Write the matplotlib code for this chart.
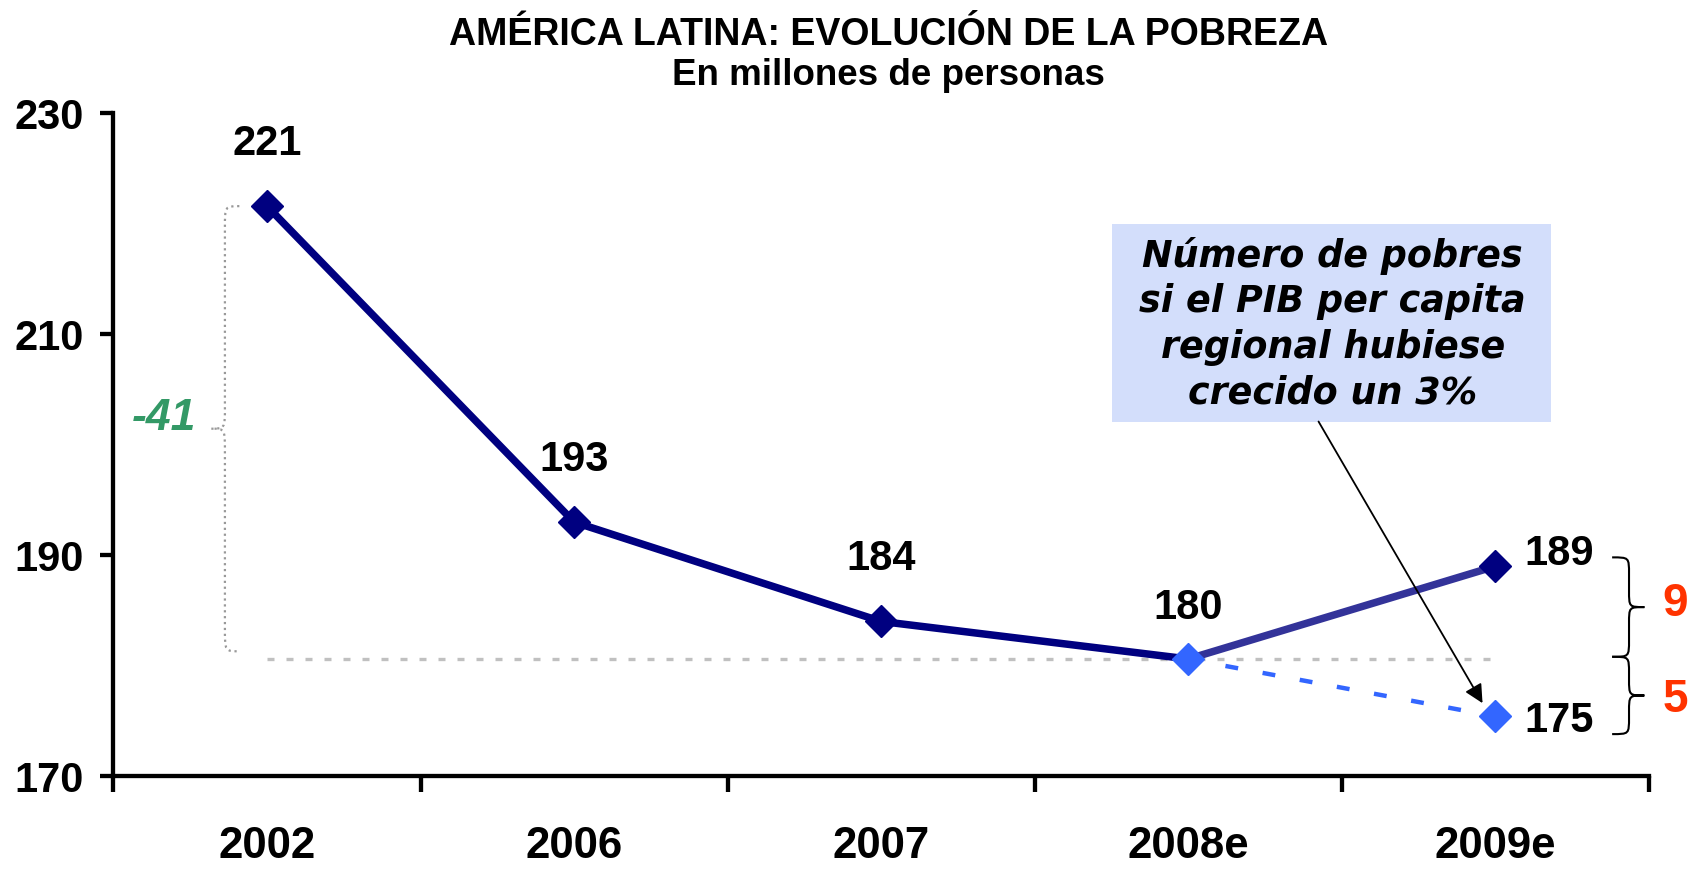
import matplotlib
matplotlib.use('Agg')
import matplotlib.pyplot as plt
from matplotlib.path import Path
from matplotlib.patches import PathPatch, Rectangle

# Data (millions of poor people)
years = ['2002', '2006', '2007', '2008e', '2009e']
pobres = [221.6, 193.0, 184.0, 180.6, 189.0]
pobres_labels = ['221', '193', '184', '180', '189']
# scenario: GDP per capita grew 3% in 2009
pobres_3pct = [180.6, 175.4]
pobres_3pct_label = '175'
diff_total = '-41'
diff_crisis = '9'
diff_scenario = '5'

navy = '#000080'
navy_light = '#333399'
blue = '#3366FF'
grey = '#C0C0C0'

plt.rcParams['font.family'] = ['Liberation Sans', 'DejaVu Sans']

fig = plt.figure(figsize=(16.93, 8.72), dpi=100)
ax = fig.add_axes([0.067, 0.110, 0.907, 0.760])

x = list(range(len(years)))

# grey reference line at the 2008 level
ax.plot([x[0], x[4]], [pobres[3], pobres[3]], color=grey, lw=2.4,
        linestyle=(0, (2.1, 3.6)), zorder=1)

# main series
ax.plot(x[:4], pobres[:4], color=navy, lw=5.4, zorder=2)
ax.plot(x[3:5], pobres[3:5], color=navy_light, lw=5.4, zorder=2)
ax.plot(x[3:5], pobres_3pct, color=blue, lw=3.2, linestyle=(0, (2.9, 5.6)), zorder=2)

ax.plot(x[:3], pobres[:3], 'D', color=navy, ms=16.5, zorder=3)
ax.plot(x[4], pobres[4], 'D', color=navy, ms=16.5, zorder=3)
ax.plot(x[3:5], pobres_3pct, 'D', color=blue, ms=16.5, zorder=3)

# value labels
lbl = dict(fontsize=30, fontweight='bold', ha='center', va='center')
offs = [(0, 45), (0, 45), (0, 45), (0, 37)]
for i in range(4):
    ax.annotate(pobres_labels[i], (x[i], pobres[i]), xytext=offs[i],
                textcoords='offset points', **lbl)
ax.annotate(pobres_labels[4], (x[4], pobres[4]), xytext=(46, 9),
            textcoords='offset points', **lbl)
ax.annotate(pobres_3pct_label, (x[4], pobres_3pct[1]), xytext=(46, -3),
            textcoords='offset points', **lbl)


def brace(ax, x_end, x_stem, x_tip, y_top, y_bot, r, **kw):
    ym = (y_top + y_bot) / 2
    verts = [(x_end, y_top), (x_stem, y_top), (x_stem, y_top), (x_stem, y_top - r),
             (x_stem, ym + r),
             (x_stem, ym), (x_stem, ym), (x_tip, ym),
             (x_stem, ym), (x_stem, ym), (x_stem, ym - r),
             (x_stem, y_bot + r),
             (x_stem, y_bot), (x_stem, y_bot), (x_end, y_bot)]
    codes = [Path.MOVETO, Path.CURVE4, Path.CURVE4, Path.CURVE4,
             Path.LINETO,
             Path.CURVE4, Path.CURVE4, Path.CURVE4,
             Path.CURVE4, Path.CURVE4, Path.CURVE4,
             Path.LINETO,
             Path.CURVE4, Path.CURVE4, Path.CURVE4]
    ax.add_patch(PathPatch(Path(verts, codes), fill=False, clip_on=False, **kw))


# left brace: total change 2002 -> 2008
brace(ax, -0.09, -0.137, -0.182, pobres[0], pobres[3] + 0.7, 2.0,
      edgecolor='#999999', lw=1.6, linestyle=':')
ax.text(-0.335, (pobres[0] + pobres[3]) / 2 + 1.3, diff_total, color='#339966',
        fontsize=32, fontweight='bold', style='italic', ha='center', va='center')

# right braces
top = pobres[4] + 0.8
mid = pobres[3] + 0.2
bot = pobres_3pct[1] - 1.6
brace(ax, 4.38, 4.435, 4.485, top, mid, 1.5, edgecolor='black', lw=1.5)
brace(ax, 4.38, 4.435, 4.485, mid, bot, 1.5, edgecolor='black', lw=1.5)
ax.text(4.585, (top + mid) / 2 + 0.3, diff_crisis, color='#FF3300', fontsize=33,
        fontweight='bold', ha='center', va='center', clip_on=False)
ax.text(4.585, (mid + bot) / 2 - 0.4, diff_scenario, color='#FF3300', fontsize=33,
        fontweight='bold', ha='center', va='center', clip_on=False)

# scenario note box
ax.add_patch(Rectangle((2.75, 202.1), 1.43, 17.9, facecolor='#d3defb',
                       edgecolor='none', zorder=4, clip_on=False))
ax.text(3.47, 210.9, 'Número de pobres\nsi el PIB per capita\nregional hubiese\ncrecido un 3%',
        family='DejaVu Sans', fontsize=26.3, fontweight='bold', style='italic',
        ha='center', va='center', linespacing=1.3, zorder=5)
ax.annotate('', xy=(3.958, 176.6), xytext=(3.424, 202.1),
            arrowprops=dict(arrowstyle='-|>', color='black', lw=1.3,
                            mutation_scale=28, shrinkA=0, shrinkB=0), zorder=4)

# axes
ax.set_xlim(-0.5, 4.5)
ax.set_ylim(170, 230)
ax.set_yticks([170, 190, 210, 230])
ax.set_xticks(x)
ax.set_xticklabels(years)
ax.set_xticks([i - 0.5 for i in range(len(years) + 1)], minor=True)
ax.tick_params(axis='x', which='major', length=0, pad=36, labelsize=31.5)
ax.tick_params(axis='x', which='minor', length=11.5, width=3.1, direction='out')
ax.tick_params(axis='y', length=9.4, width=3.1, pad=12, labelsize=30)
for t in ax.get_xticklabels() + ax.get_yticklabels():
    t.set_fontweight('bold')
for s in ['top', 'right']:
    ax.spines[s].set_visible(False)
for s in ['left', 'bottom']:
    ax.spines[s].set_linewidth(3.1)

fig.text(0.525, 0.960, 'AMÉRICA LATINA: EVOLUCIÓN DE LA POBREZA', fontsize=27,
         fontweight='bold', ha='center', va='center')
fig.text(0.525, 0.913, 'En millones de personas', fontsize=26.5,
         fontweight='bold', ha='center', va='center')

fig.savefig('out.png', dpi=100)
